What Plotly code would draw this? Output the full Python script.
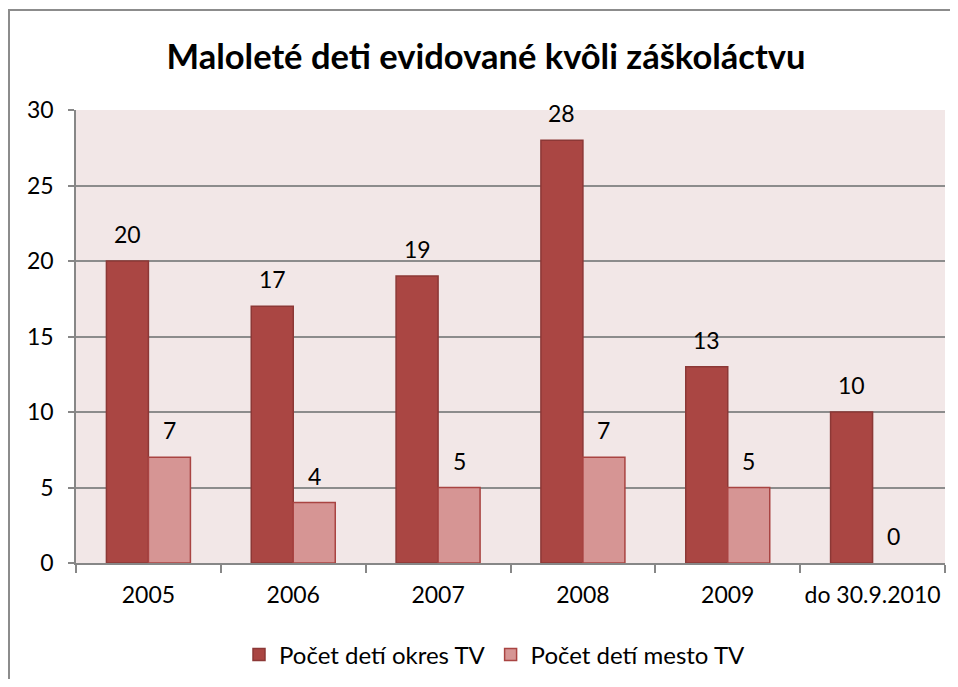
import plotly.graph_objects as go

categories = ["2005", "2006", "2007", "2008", "2009", "do 30.9.2010"]
okres = [20, 17, 19, 28, 13, 10]
mesto = [7, 4, 5, 7, 5, 0]
series_names = ["Počet detí okres TV", "Počet detí mesto TV"]
title = "Maloleté deti evidované kvôli záškoláctvu"

FONT = "Lato, 'Open Sans', sans-serif"
LABEL_SIZE = 23

# figure geometry (page body has an 8px margin)
W, H = 942, 671
L, R, T, B = 68, 5, 102, 116
pw, ph = W - L - R, H - T - B
BARGAP = 0.42
half_bar = pw / len(categories) * (1 - BARGAP) / 4

def px_x(x):
    return (x - L) / pw

def px_y(y):
    return (H - B - y) / ph

fig = go.Figure()
fig.add_trace(go.Bar(
    x=categories, y=okres, name=series_names[0],
    marker=dict(color="#AA4643",
                line=dict(color="#8C3836", width=[1.5 if v > 0 else 0 for v in okres])),
))
fig.add_trace(go.Bar(
    x=categories, y=mesto, name=series_names[1],
    marker=dict(color="#D69594",
                line=dict(color="#A94442", width=[1.5 if v > 0 else 0 for v in mesto])),
))

annotations = []
for vals, shift in ((okres, -half_bar), (mesto, half_bar)):
    for i, v in enumerate(vals):
        annotations.append(dict(
            x=i, y=v, xref="x", yref="y", text=str(v), showarrow=False,
            xshift=shift, yshift=27, yanchor="middle", xanchor="center",
            font=dict(size=LABEL_SIZE, family=FONT, color="#000000"),
        ))

fig.update_layout(
    width=W, height=H,
    autosize=False,
    margin=dict(l=L, r=R, t=T, b=B, autoexpand=False),
    paper_bgcolor="white",
    plot_bgcolor="#F2E7E7",
    barmode="group",
    bargap=BARGAP,
    bargroupgap=0,
    showlegend=True,
    font=dict(family=FONT, size=LABEL_SIZE, color="#000000"),
    title=dict(text="<b>" + title + "</b>", xref="container", x=(486 - 8) / W, xanchor="center",
               yref="container", y=1 - 49 / H, yanchor="middle",
               font=dict(size=34.5, family=FONT, color="#000000")),
    legend=dict(orientation="h", x=px_x(495 - 8), xanchor="center",
                y=px_y(647), yanchor="middle",
                font=dict(size=24, family=FONT), traceorder="normal"),
    xaxis=dict(
        type="category", categoryorder="array", categoryarray=categories,
        range=[-0.5, len(categories) - 0.5], autorange=False,
        showgrid=False, showline=True, linecolor="#878787", linewidth=1.5,
        ticks="outside", tickson="boundaries", ticklen=8, tickcolor="#878787", tickwidth=1.5,
        tickfont=dict(size=LABEL_SIZE, family=FONT), ticklabelstandoff=11, tickangle=0,
    ),
    yaxis=dict(
        range=[0, 30], autorange=False, dtick=5, showgrid=True, gridcolor="#8C8C8C", gridwidth=1.5,
        showline=True, linecolor="#878787", linewidth=1.5,
        ticks="outside", ticklen=6, tickcolor="#878787", tickwidth=1.5,
        tickfont=dict(size=LABEL_SIZE, family=FONT), zeroline=False, ticklabelstandoff=10,
    ),
    annotations=annotations,
    shapes=[dict(type="rect", xref="paper", yref="paper",
                 x0=px_x(1), x1=px_x(W + 20), y0=px_y(H + 20), y1=px_y(2),
                 line=dict(color="#8C8C8C", width=2), fillcolor="rgba(0,0,0,0)", layer="below")],
)

fig.write_html("out.html")
